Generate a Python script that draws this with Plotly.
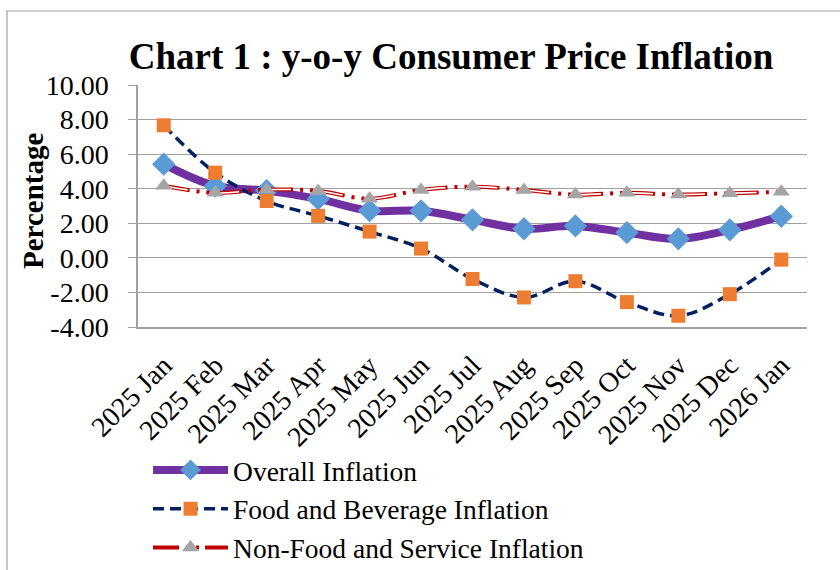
import plotly.graph_objects as go

months = ["2025 Jan", "2025 Feb", "2025 Mar", "2025 Apr", "2025 May", "2025 Jun",
          "2025 Jul", "2025 Aug", "2025 Sep", "2025 Oct", "2025 Nov", "2025 Dec", "2026 Jan"]
overall = [5.42, 4.16, 3.89, 3.41, 2.73, 2.72, 2.20, 1.68, 1.85, 1.46, 1.10, 1.62, 2.41]
food = [7.67, 4.93, 3.29, 2.43, 1.52, 0.54, -1.22, -2.29, -1.35, -2.56, -3.35, -2.10, -0.10]
nonfood = [4.17, 3.76, 3.95, 3.87, 3.42, 3.93, 4.12, 3.93, 3.66, 3.76, 3.66, 3.74, 3.82]

y_tick_vals = [10, 8, 6, 4, 2, 0, -2, -4]
y_tick_labels = ["10.00", "8.00", "6.00", "4.00", "2.00", "0.00", "-2.00", "-4.00"]

FONT = "Liberation Serif"
RED = "#C00000"
RED_DASH = "26px,7px,3px,7px,3px,6px"
WHITE_DASH = "0px,2px,22px,28px"

fig = go.Figure()

fig.add_trace(go.Scatter(
    x=months, y=overall, name="Overall Inflation", mode="lines+markers",
    line=dict(color="#7030A0", width=8, shape="spline"),
    marker=dict(symbol="diamond", size=18, color="#5B9BD5"),
    legendgroup="a"))

fig.add_trace(go.Scatter(
    x=months, y=food, name="Food and Beverage Inflation", mode="lines+markers",
    line=dict(color="#002060", width=3.5, shape="spline", dash="11px,6px"),
    marker=dict(symbol="square", size=14, color="#ED7D31"),
    legendgroup="b"))

# legend entry for non-food series
fig.add_trace(go.Scatter(
    x=[None], y=[None], name="Non-Food and Service Inflation", mode="lines+markers",
    line=dict(color=RED, width=4, dash=RED_DASH),
    marker=dict(symbol="triangle-up", size=15, color="#A5A5A5"),
    legendgroup="c"))

fig.add_trace(go.Scatter(
    x=months, y=nonfood, mode="lines", showlegend=False,
    line=dict(color=RED, width=4, shape="spline", dash=RED_DASH), hoverinfo="skip"))
fig.add_trace(go.Scatter(
    x=months, y=nonfood, mode="lines", showlegend=False,
    line=dict(color="white", width=1.6, shape="spline", dash=WHITE_DASH), hoverinfo="skip"))
fig.add_trace(go.Scatter(
    x=months, y=nonfood, mode="markers", showlegend=False,
    marker=dict(symbol="triangle-up", size=15, color="#A5A5A5"),
    name="Non-Food and Service Inflation"))

fig.update_layout(
    width=840, height=570,
    margin=dict(l=138, r=33, t=85, b=243, autoexpand=False),
    paper_bgcolor="white", plot_bgcolor="white",
    font=dict(family=FONT, color="black", size=28),
    title=dict(text="<b>Chart 1 : y-o-y Consumer Price Inflation</b>",
               x=451 / 840, xref="container", xanchor="center",
               y=1 - 56 / 570, yref="container", yanchor="middle",
               font=dict(family=FONT, size=37, color="black")),
    showlegend=True,
    legend=dict(x=0.015, y=-0.49, xanchor="left", yanchor="top",
                font=dict(family=FONT, size=27.5, color="black"),
                itemwidth=75, tracegroupgap=0, bgcolor="rgba(0,0,0,0)"),
    shapes=[dict(type="rect", xref="paper", yref="paper",
                 x0=(7 - 138) / 669, x1=1.2, y0=(327 - 11) / 242, y1=-1.5,
                 line=dict(color="#A0A0A0", width=1.2), layer="below")],
    annotations=[dict(text="<b>Percentage</b>", textangle=-90, showarrow=False,
                      xref="paper", yref="paper", x=(33 - 138) / 669, y=(327 - 201) / 242,
                      xanchor="center", yanchor="middle",
                      font=dict(family=FONT, size=29, color="black"))],
)

fig.update_xaxes(
    type="category", range=[-0.5, 12.5],
    showgrid=False, showline=True, linecolor="#A0A0A0", linewidth=1.5,
    ticks="", tickangle=-45, ticklabelstandoff=9,
    tickfont=dict(family=FONT, size=28, color="black"))

fig.update_yaxes(
    range=[-4, 10], tickvals=y_tick_vals, ticktext=y_tick_labels,
    showgrid=True, gridcolor="#A0A0A0", gridwidth=1.3, zeroline=False,
    showline=True, linecolor="#A0A0A0", linewidth=1.5,
    ticks="outside", ticklen=8, tickcolor="#A0A0A0", tickwidth=1.3,
    ticklabelstandoff=14,
    tickfont=dict(family=FONT, size=28, color="black"))

fig.write_html("out.html", post_script="document.body.style.margin='0';",
               config={"displayModeBar": False})
